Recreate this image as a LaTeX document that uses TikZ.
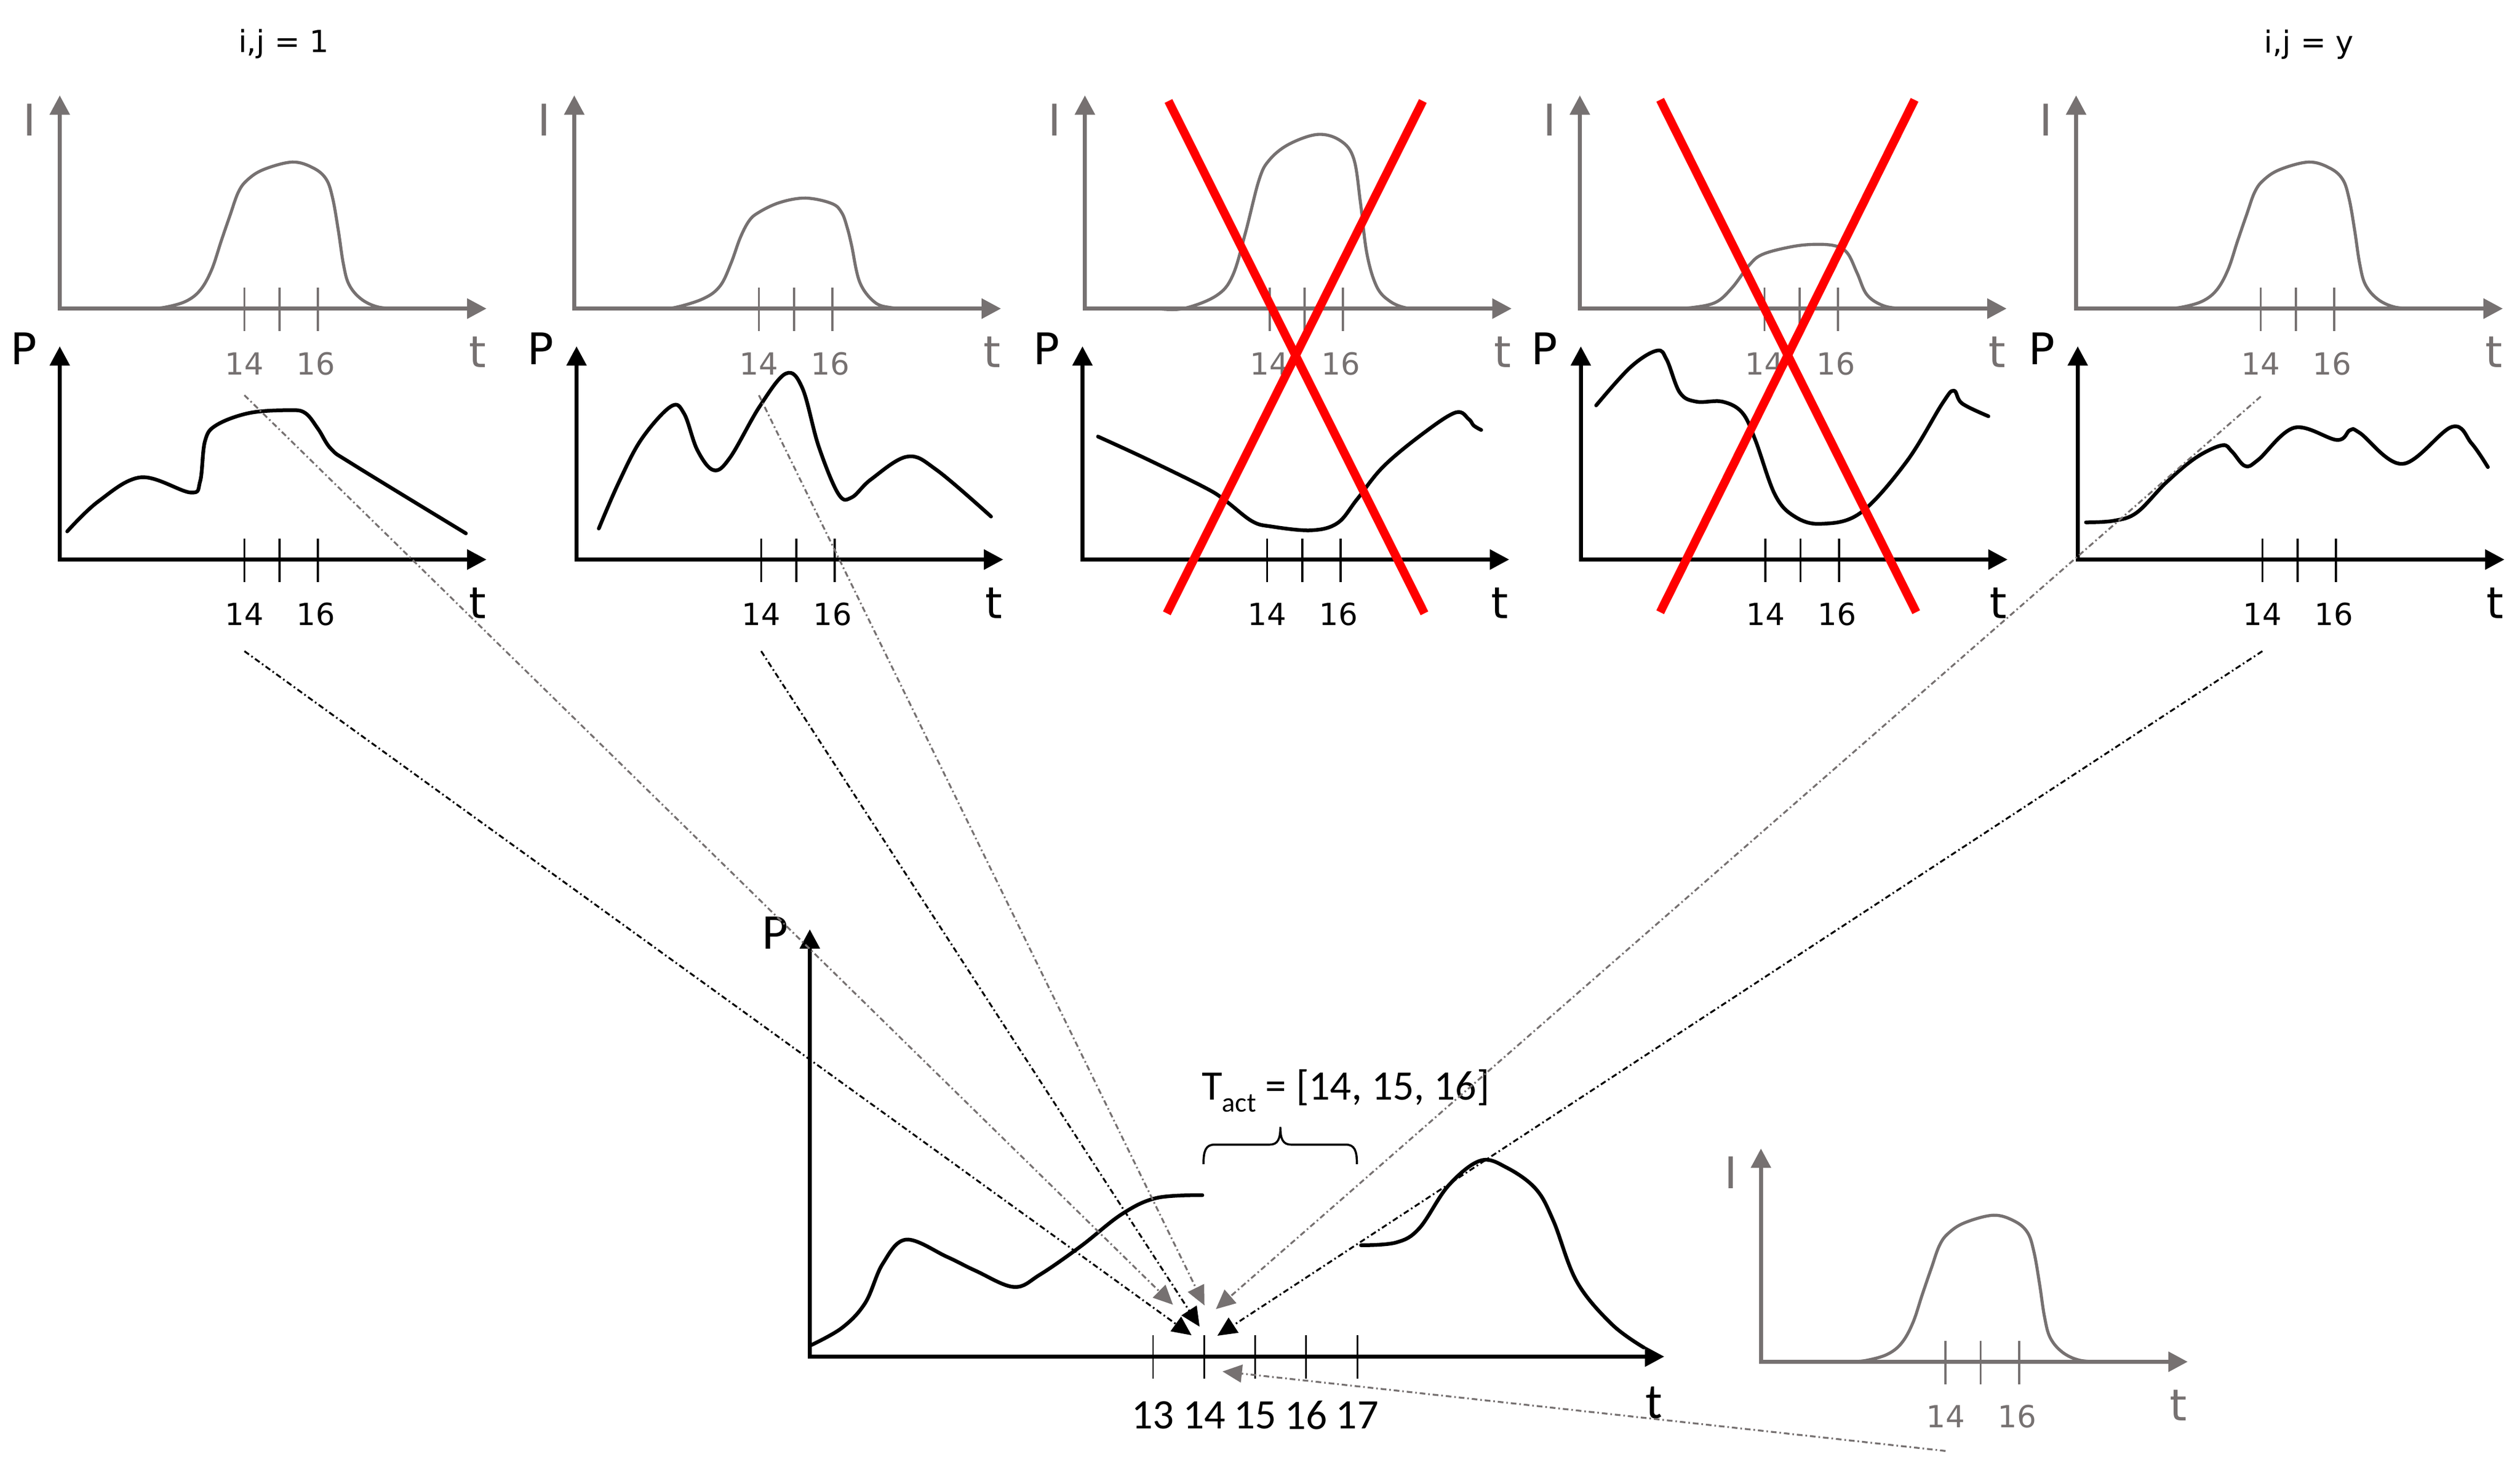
\documentclass[tikz,border=0pt]{standalone}
\usepackage{fontspec}
\setmainfont{DejaVu Sans}
\newfontfamily\carl{Carlito}
\usetikzlibrary{arrows.meta}
\definecolor{grayc}{RGB}{118,113,113}
\definecolor{redc}{RGB}{255,0,0}
\tikzset{
  axisln/.style={line width=2.6pt,line join=miter,{Triangle[width=12pt,length=12pt]}-{Triangle[width=12pt,length=12pt]}},
  tickln/.style={line width=1.3pt},
  curveln/.style={line width=1.9pt,line cap=round,line join=round},
  pcurve/.style={line width=2.3pt,line cap=round,line join=round},
  ticklab/.style={inner sep=0pt,font=\fontsize{18.8}{20}\selectfont},
  axlab/.style={inner sep=0pt,font=\fontsize{27}{30}\selectfont},
  titlab/.style={inner sep=0pt,anchor=base,font=\fontsize{18.8}{20}\selectfont},
  botlab/.style={inner sep=0pt,font=\carl\fontsize{26}{28}\selectfont},
  botax/.style={inner sep=0pt,font=\carl\fontsize{31}{33}\selectfont},
  conn/.style={line width=1.15pt,dash pattern=on 3.5pt off 1.8pt on 1pt off 1.8pt,-{Triangle[width=11pt,length=12pt]}},
  crossln/.style={line width=5.3pt,draw=redc},
}
\newcommand\plotaxes[5]{%
  \begin{scope}[shift={#2},#3]
    \draw[axisln] (0,-132) -- (0,0) -- (264.2,0);
    \foreach \tx in {114.3,136,159.8} \draw[tickln] (\tx,-13) -- (\tx,14);
    \node[ticklab] (#1a) at (114.3,34) {14};
    \node[ticklab] (#1b) at (158.5,34) {16};
    \node[axlab] (#1t) at (258.5,27) {t};
    \node[axlab] (#1l) at #5 {#4};
  \end{scope}}
\begin{document}
\begin{tikzpicture}[x=1pt,y=-1pt]
\fill[white] (0,0) rectangle (1560,911.65);
\useasboundingbox (0,0) rectangle (1560,911.65);

% titles
\node[titlab] (title1) at (175.7,32.3) {i,j = 1};
\node[titlab] (title5) at (1429.4,32.8) {i,j = y};

% ---------- I plots
\plotaxes{p1i}{(37,191)}{grayc}{I}{(-18.7,-116.9)}
\plotaxes{p2i}{(355.5,191)}{grayc}{I}{(-18.7,-116.9)}
\plotaxes{p3i}{(671.6,191)}{grayc}{I}{(-18.7,-116.9)}
\plotaxes{p4i}{(978,191)}{grayc}{I}{(-18.7,-116.9)}
\plotaxes{p5i}{(1285.2,191)}{grayc}{I}{(-18.7,-116.9)}
\plotaxes{bri}{(1090.1,842.8)}{grayc}{I}{(-18.7,-116.9)}

% ---------- P plots
\plotaxes{p1p}{(37,346.3)}{black}{P}{(-22.4,-130.4)}
\plotaxes{p2p}{(356.9,346.3)}{black}{P}{(-22.4,-130.4)}
\plotaxes{p3p}{(670.1,346.3)}{black}{P}{(-22.4,-130.4)}
\plotaxes{p4p}{(978.6,346.3)}{black}{P}{(-22.4,-130.4)}
\plotaxes{p5p}{(1286.2,346.3)}{black}{P}{(-22.4,-130.4)}

% ---------- I curves
\foreach \ox/\oy in {37/191,1285.2/191,1090.1/842.8}{
\draw[curveln,grayc,shift={(\ox,\oy)}] plot[smooth,tension=0.6] coordinates {(55,0) (65,-0.8) (78,-4.5) (87,-11.5) (94,-24) (100,-42) (105.5,-58) (110.5,-72) (116,-79.5) (126,-86) (144,-90.7) (157,-87) (165,-80) (169,-68) (172.5,-48) (175.5,-28) (179,-15) (186.5,-6) (197,-1) (210,0)};
}
\draw[curveln,grayc,shift={(355.5,191)}] plot[smooth,tension=0.6] coordinates {(50,0) (62,-0.6) (80.2,-6.3) (90.4,-14.2) (97,-28) (102.6,-43.5) (108,-54) (113.8,-59.3) (127,-65.6) (143.2,-68.4) (159.5,-65) (165.6,-59.3) (169,-50) (171.7,-39) (176.7,-16.4) (185.9,-4) (196,-0.6) (210,0)};
\draw[curveln,grayc,shift={(671.6,191)}] plot[smooth,tension=0.6] coordinates {(45,0) (60.9,0) (81.2,-7.9) (91.4,-20.3) (99.5,-47.4) (107.6,-79) (113.7,-91.4) (125.9,-101.5) (144.2,-107.8) (158.4,-103.8) (166.5,-92.5) (170.6,-65.4) (174.6,-33.8) (180.7,-13.5) (188.9,-4.5) (199,-0.4) (210,0)};
\draw[curveln,grayc,shift={(978,191)}] plot[smooth,tension=0.6] coordinates {(55,0) (70,-0.7) (84.3,-4) (94.4,-13.1) (104.6,-26.6) (112.7,-33.4) (129,-37.9) (143.2,-39.7) (157.4,-39) (165.5,-34.5) (171.6,-22.1) (177.7,-8.6) (187.9,-1.8) (200,0) (210,0)};

% ---------- P curves
\draw[pcurve,shift={(37,346.3)}] plot[smooth,tension=0.6] coordinates {(4.6,-17.4) (23.9,-36) (50.3,-50.9) (80.8,-41.5) (86.9,-48.4) (89.9,-73.3) (97,-83.2) (117.4,-90.7) (141.7,-92.4) (151.9,-90.7) (160,-80.7) (168.1,-68.3) (182.3,-58.4) (251.4,-16.2)};
\draw[pcurve,shift={(356.9,346.3)}] plot[smooth,tension=0.6] coordinates {(13.8,-19.2) (26,-47.4) (40.2,-74.5) (58.5,-94.8) (66.6,-90.3) (74.8,-67.7) (84.9,-55.3) (95.1,-63.2) (113.4,-94.8) (129.6,-115.1) (139.8,-106.1) (149.9,-70) (162.1,-40.6) (170.3,-38.4) (182.4,-49.7) (204.8,-63.7) (223.1,-55.3) (256.6,-26.6)};
\draw[pcurve,shift={(670.1,346.3)}] plot[smooth,tension=0.6] coordinates {(9.6,-76.1) (40,-62.1) (76.6,-44.1) (88.8,-36.2) (105,-23.7) (117.2,-20.4) (141.6,-18.1) (157.9,-22.6) (170,-37.3) (186.3,-57.6) (210.7,-77.9) (231,-91) (239.1,-86.9) (242.2,-82.9) (246.8,-80.2)};
\draw[pcurve,shift={(978.6,346.3)}] plot[smooth,tension=0.6] coordinates {(9.5,-95.4) (30.8,-119.1) (47.1,-129.3) (53.2,-123.6) (61.3,-103.3) (71.5,-97.7) (87.7,-97.7) (99.9,-90.9) (108,-74) (120.2,-40.1) (132.4,-26.6) (148.7,-22.1) (173,-28.8) (201.5,-60.4) (223.8,-96.6) (230.9,-104.5) (236,-96.6) (252.3,-88.7)};
\draw[pcurve,shift={(1286.2,346.3)}] plot[smooth,tension=0.6] coordinates {(5.1,-23) (22.3,-24) (36.6,-29.1) (54.8,-47.7) (73.1,-63) (89.4,-70.7) (95.5,-66.8) (103.6,-57.9) (111.7,-61.7) (134.1,-81.6) (160.5,-74) (168.6,-80.1) (174.7,-78.3) (201.1,-59.2) (231.6,-82.1) (243.8,-71.9) (253.9,-57.2)};

% ---------- red crosses
\draw[crossln] (723.3,62.5) -- (881.8,379.6);
\draw[crossln] (880.8,62.5) -- (722.3,379.6);
\draw[crossln] (1027.7,61.8) -- (1186.2,378.9);
\draw[crossln] (1185.2,61.8) -- (1027.7,378.9);

% ---------- main bottom plot
\draw[axisln] (501.3,575.1) -- (501.3,839.6) -- (1030.3,839.6);
\foreach \tx/\lab in {713.8/13,745.4/14,777/15,808.6/16,840.2/17}{
  \draw[line width=1pt] (\tx,826.4) -- (\tx,853.2);
  \node[botlab] (m\lab) at (\tx,875.8) {\lab};
}
\node[botax] (mt) at (1023.8,868.1) {t};
\node[botax] (mP) at (480,577.5) {P};
\node[botlab,anchor=base] (tact) at (833,680.9) {T\raisebox{-0.28em}{\fontsize{17}{18}\selectfont act} = [14, 15, 16]};
\draw[line width=1.3pt] (745,720.5) .. controls (745,712) and (746.5,708.4) .. (752,708.4) -- (786,708.4) .. controls (791,708.4) and (792.6,705) .. (792.6,697.4) .. controls (792.6,705) and (794.2,708.4) .. (799.2,708.4) -- (833,708.4) .. controls (838.5,708.4) and (840,712) .. (840,720.5);
\draw[pcurve] plot[smooth,tension=0.6] coordinates {(501.3,832.9) (521.1,821.9) (535.6,806.4) (546.4,782.2) (560.9,767.2) (586.1,777.8) (604.2,786.6) (627.7,796.5) (643.9,788.8) (669.2,771.2) (694.5,751.4) (716.1,741.4) (744.3,739.7)};
\draw[pcurve] plot[smooth,tension=0.6] coordinates {(842.5,770.7) (864.2,769) (878.6,760.2) (896.7,733.7) (916.5,718.3) (932.8,722.7) (950.8,735.9) (961.7,755.8) (976.1,793.2) (997.8,819.6) (1017.6,834)};

% ---------- connectors
\coordinate (g1s) at (151.3,244.6);
\coordinate (g2s) at (469.8,244.6);
\coordinate (g5s) at (1399.5,245.4);
\coordinate (b1s) at (151.3,403);
\coordinate (b2s) at (471.2,403);
\coordinate (b5s) at (1400.5,403);
\coordinate (gbs) at (1204.4,898);
\coordinate (g1e) at (726.1,807.5);
\coordinate (g2e) at (745.6,807.9);
\coordinate (g5e) at (752.7,810.2);
\coordinate (b1e) at (737.6,826.4);
\coordinate (b2e) at (742.6,821.1);
\coordinate (b5e) at (753.6,826.7);
\coordinate (gbe) at (756.8,848.8);
\draw[conn,grayc] (g1s) -- (g1e);
\draw[conn,grayc] (g2s) -- (g2e);
\draw[conn,grayc] (g5s) -- (g5e);
\draw[conn,grayc] (gbs) -- (gbe);
\draw[conn,black] (b1s) -- (b1e);
\draw[conn,black] (b2s) -- (b2e);
\draw[conn,black] (b5s) -- (b5e);
\end{tikzpicture}
\end{document}
